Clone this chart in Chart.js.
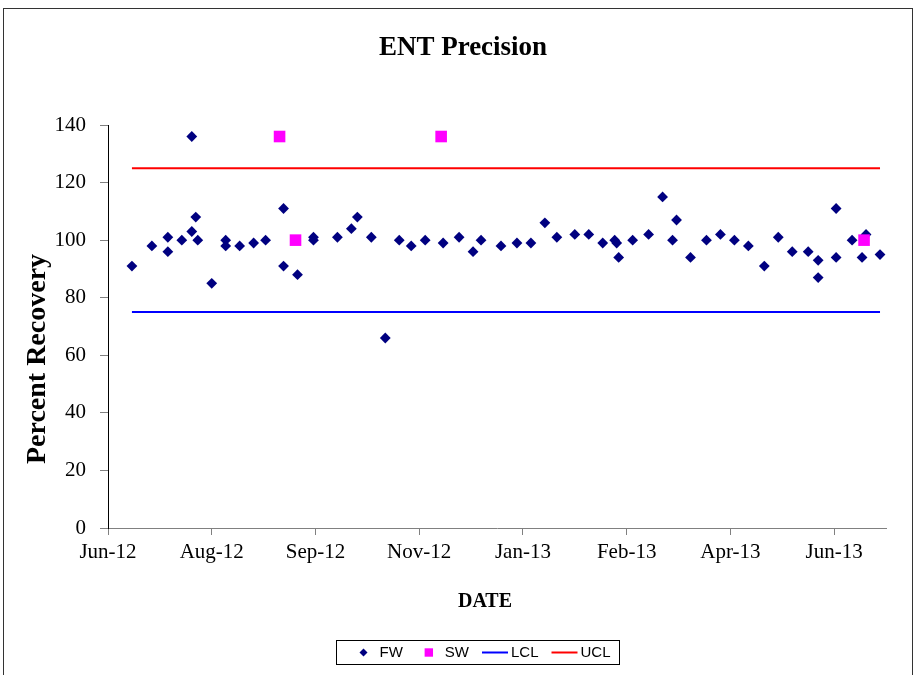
<!DOCTYPE html>
<html>
<head>
<meta charset="utf-8">
<script src="https://cdn.jsdelivr.net/npm/chart.js@4.4.1/dist/chart.umd.min.js"></script>
<style>
  html, body { margin: 0; padding: 0; background: #ffffff; }
  #wrap { position: relative; width: 916px; height: 675px; }
</style>
</head>
<body>
<div id="wrap"><canvas id="c" width="916" height="675"></canvas></div>
<script>
// ---------------- data ----------------
const chartTitle = 'ENT Precision';
const xTitle = 'DATE';
const yTitle = 'Percent Recovery';
const seriesLabels = ['FW', 'SW', 'LCL', 'UCL'];

// x values: days since 10 Jun 2012 (axis start), tick every 52 days
const xTickLabels = ['Jun-12', 'Aug-12', 'Sep-12', 'Nov-12', 'Jan-13', 'Feb-13', 'Apr-13', 'Jun-13'];
const yTickValues = [0, 20, 40, 60, 80, 100, 120, 140];

const fwDay = [12, 22, 30, 30, 37, 42, 42, 44, 45, 52, 59, 59, 66, 73, 79, 88, 88, 95, 103, 103,
               115, 122, 125, 132, 139, 146, 152, 159, 168, 176, 183, 187, 197, 205, 212, 219, 225, 234, 241, 248,
               254, 255, 256, 263, 271, 278, 283, 285, 292, 300, 307, 314, 321, 329, 336, 343, 351, 356, 356, 365,
               365, 373, 378, 380, 387];
const fwValue = [91, 98, 101, 96, 100, 136, 103, 108, 100, 85, 100, 98, 98, 99, 100, 111, 91, 88, 101, 100,
                 101, 104, 108, 101, 66, 100, 98, 100, 99, 101, 96, 100, 98, 99, 99, 106, 101, 102, 102, 99,
                 100, 99, 94, 100, 102, 115, 100, 107, 94, 100, 102, 100, 98, 91, 101, 96, 96, 93, 87, 111,
                 94, 100, 94, 102, 95];

const swDay = [86, 94, 167, 379];
const swValue = [136, 100, 136, 100];

const limitDay = [12, 387];
const lclValue = [75, 75];
const uclValue = [125, 125];

// ---------------- helpers ----------------
const toPoints = (xs, ys) => xs.map((x, i) => ({ x: x, y: ys[i] }));

const SERIF = '"Liberation Serif", "Times New Roman", serif';
const SANS = '"Liberation Sans", Arial, sans-serif';

const decor = {
  id: 'decor',
  beforeDraw(chart) {
    const ctx = chart.ctx;
    ctx.save();
    ctx.fillStyle = '#ffffff';
    ctx.fillRect(0, 0, chart.width, chart.height);
    ctx.restore();
  },
  afterDraw(chart) {
    const ctx = chart.ctx;
    ctx.save();
    // outer frame
    ctx.strokeStyle = '#333333';
    ctx.lineWidth = 1;
    ctx.strokeRect(3.5, 8.5, 909, 700);

    ctx.fillStyle = '#000000';
    // chart title
    ctx.font = 'bold 27px ' + SERIF;
    ctx.textAlign = 'center';
    ctx.textBaseline = 'alphabetic';
    ctx.fillText(chartTitle, 463, 55);

    // x axis title
    ctx.font = 'bold 20px ' + SERIF;
    ctx.fillText(xTitle, 485, 607);

    // y axis title
    ctx.save();
    ctx.translate(38, 359);
    ctx.rotate(-Math.PI / 2);
    ctx.font = 'bold 28px ' + SERIF;
    ctx.textBaseline = 'middle';
    ctx.fillText(yTitle, 0, 0);
    ctx.restore();

    // legend
    const ly = 652.5;
    const iconW = 26, gapIcon = 3, gapItem = 13;
    let cx = 350.5;
    ctx.font = '15px ' + SANS;
    ctx.textAlign = 'left';
    ctx.textBaseline = 'middle';
    const firstX = cx;
    chart.data.datasets.forEach((ds) => {
      const mid = cx + iconW / 2;
      ctx.fillStyle = ds.backgroundColor;
      ctx.strokeStyle = ds.borderColor;
      if (ds.pointStyle === 'rectRot') {
        ctx.beginPath();
        ctx.moveTo(mid - 4, ly);
        ctx.lineTo(mid, ly - 4);
        ctx.lineTo(mid + 4, ly);
        ctx.lineTo(mid, ly + 4);
        ctx.closePath();
        ctx.fill();
      } else if (ds.pointStyle === 'rect') {
        ctx.fillRect(mid - 4.2, ly - 4.2, 8.4, 8.4);
      } else {
        ctx.lineWidth = 2;
        ctx.beginPath();
        ctx.moveTo(cx, ly);
        ctx.lineTo(cx + iconW, ly);
        ctx.stroke();
      }
      ctx.fillStyle = '#000000';
      const tx = cx + iconW + gapIcon;
      ctx.fillText(ds.label, tx, ly);
      cx = tx + ctx.measureText(ds.label).width + gapItem;
    });
    const lastX = cx - gapItem;
    ctx.strokeStyle = '#000000';
    ctx.lineWidth = 1;
    ctx.strokeRect(336.5, 640.5, 283, 24);
    ctx.restore();
  }
};

const ctx = document.getElementById('c').getContext('2d');
Chart.defaults.font.family = SERIF;
Chart.defaults.color = '#000000';

new Chart(ctx, {
  type: 'scatter',
  data: {
    datasets: [
      {
        label: seriesLabels[0],
        data: toPoints(fwDay, fwValue),
        pointStyle: 'rectRot',
        pointRadius: 5.4,
        pointHoverRadius: 5.4,
        backgroundColor: '#000080',
        borderColor: '#000080',
        borderWidth: 0,
        showLine: false,
        order: 1
      },
      {
        label: seriesLabels[1],
        data: toPoints(swDay, swValue),
        pointStyle: 'rect',
        pointRadius: 8.2,
        pointHoverRadius: 8.2,
        backgroundColor: '#FF00FF',
        borderColor: '#FF00FF',
        borderWidth: 0,
        showLine: false,
        order: 0
      },
      {
        label: seriesLabels[2],
        type: 'line',
        data: toPoints(limitDay, lclValue),
        borderColor: '#0000FF',
        backgroundColor: '#0000FF',
        borderWidth: 2,
        pointRadius: 0,
        fill: false,
        order: 2
      },
      {
        label: seriesLabels[3],
        type: 'line',
        data: toPoints(limitDay, uclValue),
        borderColor: '#FF0000',
        backgroundColor: '#FF0000',
        borderWidth: 2,
        pointRadius: 0,
        fill: false,
        order: 3
      }
    ]
  },
  options: {
    responsive: false,
    animation: false,
    devicePixelRatio: 1,
    events: [],
    layout: { padding: { left: 0, right: 30, top: 125, bottom: 0 } },
    plugins: {
      legend: { display: false },
      title: { display: false },
      tooltip: { enabled: false }
    },
    scales: {
      x: {
        type: 'linear',
        min: 0,
        max: 390,
        afterFit: (s) => { s.height = 147; },
        ticks: {
          stepSize: 52,
          includeBounds: false,
          autoSkip: false,
          maxRotation: 0,
          minRotation: 0,
          padding: 5,
          color: '#000000',
          font: { family: SERIF, size: 21 },
          callback: (v, i) => xTickLabels[i]
        },
        grid: { drawOnChartArea: false, drawTicks: true, tickLength: 7, color: '#808080' },
        border: { display: true, color: '#808080', width: 1 }
      },
      y: {
        type: 'linear',
        min: yTickValues[0],
        max: yTickValues[yTickValues.length - 1],
        afterFit: (s) => { s.width = 108; },
        afterBuildTicks: (s) => { s.ticks = yTickValues.map(v => ({ value: v })); },
        ticks: {
          padding: 14,
          color: '#000000',
          font: { family: SERIF, size: 21 }
        },
        grid: { drawOnChartArea: false, drawTicks: true, tickLength: 8, color: '#808080' },
        border: { display: true, color: '#000000', width: 1 }
      }
    }
  },
  plugins: [decor]
});
</script>
</body>
</html>
